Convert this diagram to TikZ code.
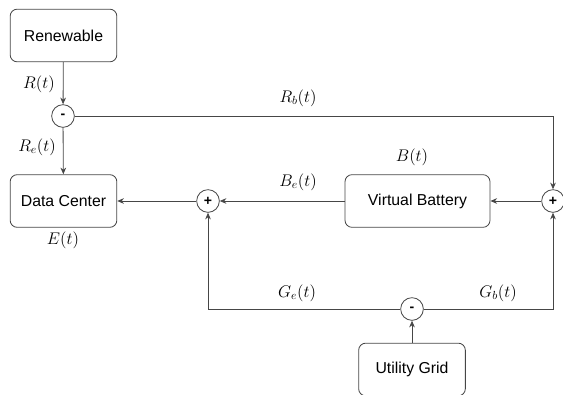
\documentclass[tikz,border=0pt]{standalone}
\usepackage{fontspec}
\setsansfont{Liberation Sans}
\usetikzlibrary{arrows.meta}
\definecolor{wiregray}{RGB}{70,70,70}

\begin{document}
\begin{tikzpicture}[
  x=0.03cm, y=-0.03cm,
  block/.style={draw=wiregray, rounded corners=6pt, line width=0.7pt, align=center, minimum width=3.2cm, minimum height=1.58cm, font=\sffamily\fontsize{13.5}{16}\selectfont},
  junction/.style={draw=wiregray, circle, line width=0.7pt, minimum size=0.68cm, inner sep=0pt, font=\sffamily\bfseries\large},
  line/.style={-{Stealth[length=2mm,width=1.7mm]}, line width=0.7pt, draw=wiregray},
  sig/.style={font=\Large}
]
\clip (0,0) rectangle (563,394);

% sources and loads
\node[block] (ren) at (63.5,35.5) {Renewable};
\node[block] (dc) at (63.5,201) {Data Center};
\node[block, minimum width=4.35cm] (vb) at (417.5,201) {Virtual Battery};
\node[block] (grid) at (412,369.5) {Utility Grid};

% summing points
\node[junction] (mR) at (63,116) {-};
\node[junction] (pL) at (208,201) {+};
\node[junction] (pR) at (553,201) {+};
\node[junction] (mG) at (412,309) {-};

% signal labels
\node[sig] (lblR) at (39,84) {$R(t)$};
\node[sig] (lblRe) at (37,147) {$R_e(t)$};
\node[sig] (lblRb) at (298,98) {$R_b(t)$};
\node[sig] (lblE) at (63,240) {$E(t)$};
\node[sig] (lblB) at (412,157) {$B(t)$};
\node[sig] (lblBe) at (298,182) {$B_e(t)$};
\node[sig] (lblGe) at (297,293) {$G_e(t)$};
\node[sig] (lblGb) at (498,293) {$G_b(t)$};

\draw[line] (ren) -- (mR);
\draw[line] (mR) -- (dc);
\draw[line] (mR) -| (pR);
\draw[line] (pR) -- (vb);
\draw[line] (vb) -- (pL);
\draw[line] (pL) -- (dc);
\draw[line] (mG) -| (pL);
\draw[line] (mG) -| (pR);
\draw[line] (grid) -- (mG);

\end{tikzpicture}
\end{document}
